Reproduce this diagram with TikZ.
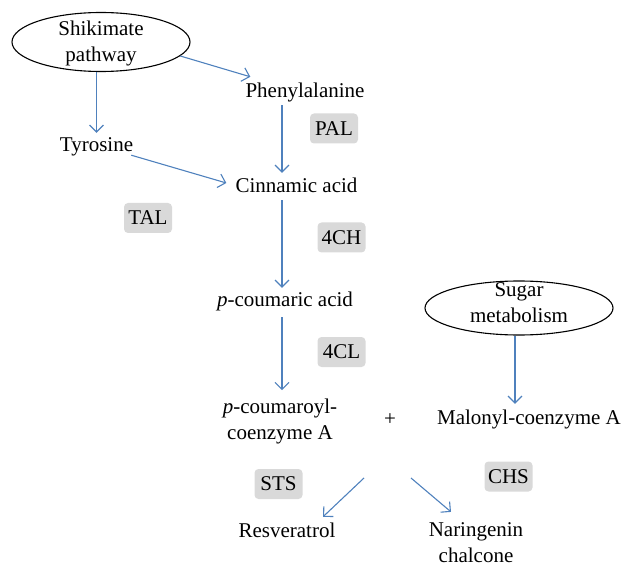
\documentclass[tikz,border=0pt]{standalone}
\usepackage{fontspec}
\setmainfont{Liberation Serif}
\usetikzlibrary{arrows.meta,calc,shapes.geometric}
\definecolor{arrblue}{HTML}{4F81BD}
\definecolor{boxgray}{HTML}{D9D9D9}
\begin{document}
\begin{tikzpicture}[x=1pt,y=-1pt,
  every node/.style={font=\fontsize{21}{26}\selectfont},
  txt/.style={inner sep=2pt, text height=15pt, text depth=5pt, anchor=base},
  txttwo/.style={inner sep=1pt, align=center, anchor=base},
  ell/.style={draw=black, line width=1.1pt, ellipse, inner sep=0pt},
  enz/.style={fill=boxgray, rounded corners=4pt, minimum width=48pt, minimum height=30pt, inner sep=2pt},
  arr/.style={draw=arrblue, line width=1.1pt, -{Straight Barb[length=7pt,width=14pt]}}]
\useasboundingbox (0,0) rectangle (622,567);
\coordinate (col) at (282,0);
% ellipses
\node[ell, minimum width=178pt, minimum height=59pt] (shik) at (101,42) {};
\node[txttwo] (shiktxt) at (101,62) {Shikimate\\pathway};
\node[ell, minimum width=188pt, minimum height=54pt] (sugar) at (519,308) {};
\node[txttwo] (sugartxt) at (519,322) {Sugar\\metabolism};
% compounds
\node[txt] (phe) at (305,98) {Phenylalanine};
\node[txt] (tyr) at (96.5,152) {Tyrosine};
\node[txt] (cin) at (296.5,193) {Cinnamic acid};
\node[txt] (pcou) at (285,306) {\textit{p}-coumaric acid};
\node[txttwo] (pcoa) at (280,439) {\textit{p}-coumaroyl-\\coenzyme A};
\node (plus) at (390,420) {+};
\node[txt] (mal) at (529,424) {Malonyl-coenzyme A};
\node[txt] (res) at (287,537) {Resveratrol};
\node[txttwo] (nar) at (476,562) {Naringenin\\chalcone};
% enzymes
\node[enz] (pal) at (334,128.5) {PAL};
\node[enz] (tal) at (148,218) {TAL};
\node[enz] (c4h) at (341.5,237.5) {4CH};
\node[enz] (c4l) at (341.5,352) {4CL};
\node[enz] (sts) at (278.5,484) {STS};
\node[enz] (chs) at (508.5,476.5) {CHS};
% split points
\coordinate (sL) at (364,478);
\coordinate (sR) at (411,478);
% arrows
\draw[arr] (shik.-10) -- ($(phe.north west)+(7,-4)$);
\draw[arr] (shik.south -| tyr.north) -- ($(tyr.north)+(0,-2)$);
\draw[arr] ($(tyr.south east)+(-4,-4)$) -- ($(cin.west)+(-7,-5)$);
\draw[arr] (phe.south -| col) -- ($(cin.north -| col)+(0,-3)$);
\draw[arr] (cin.south -| col) -- ($(pcou.north -| col)+(0,-1)$);
\draw[arr] ($(pcou.south -| col)+(0,4)$) -- ($(pcoa.north -| col)+(0,-7)$);
\draw[arr] ($(sugar.south)+(-4,0)$) -- ($(mal.north)+(-14,-3)$);
\draw[arr] (sL) -- ($(res.north)+(36,-3)$);
\draw[arr] (sR) -- ($(nar.north)+(-25,-9)$);
\end{tikzpicture}
\end{document}
